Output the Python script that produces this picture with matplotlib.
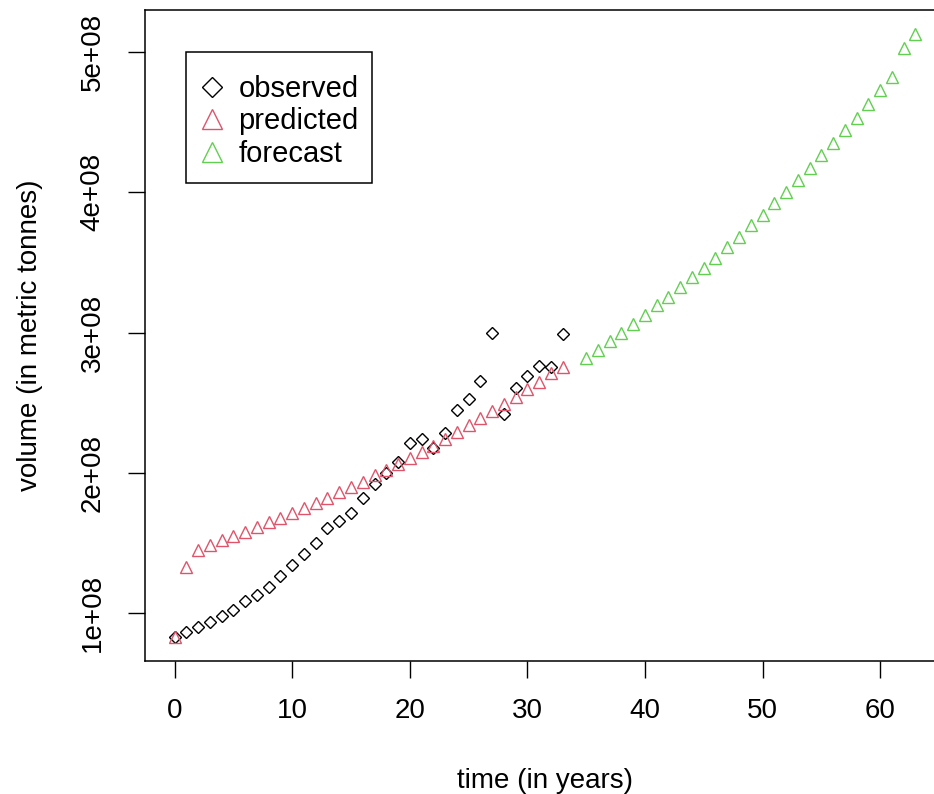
import numpy as np
import matplotlib
matplotlib.use("Agg")
import matplotlib.pyplot as plt
from matplotlib.lines import Line2D
from matplotlib.patches import Rectangle

plt.rcParams["font.family"] = ["Liberation Sans", "DejaVu Sans"]

# observed / predicted: years 0..33, forecast: years 35..63 (values in 1e8 tonnes)
obs_years = list(range(0, 34))
observed = [0.831, 0.867, 0.902, 0.938, 0.979, 1.026, 1.086, 1.133, 1.188, 1.264,
            1.342, 1.425, 1.501, 1.604, 1.656, 1.715, 1.818, 1.920, 1.996, 2.079,
            2.214, 2.241, 2.179, 2.281, 2.447, 2.524, 2.656, 2.999, 2.417, 2.606,
            2.692, 2.763, 2.756, 2.989]
predicted = [0.831, 1.330, 1.449, 1.485, 1.520, 1.549, 1.580, 1.611, 1.651, 1.682,
             1.715, 1.751, 1.787, 1.822, 1.865, 1.901, 1.936, 1.984, 2.020, 2.067,
             2.107, 2.150, 2.191, 2.245, 2.293, 2.340, 2.393, 2.442, 2.488, 2.538,
             2.597, 2.649, 2.709, 2.756]
fc_years = list(range(35, 64))
forecast = [2.816, 2.875, 2.939, 2.999, 3.058, 3.123, 3.194, 3.255, 3.327, 3.394,
            3.462, 3.533, 3.607, 3.683, 3.767, 3.838, 3.926, 4.004, 4.087, 4.171,
            4.266, 4.349, 4.444, 4.531, 4.627, 4.729, 4.824, 5.031, 5.128]

observed = np.array(observed) * 1e8
predicted = np.array(predicted) * 1e8
forecast = np.array(forecast) * 1e8

BLACK = "#000000"
RED = "#DF536B"
GREEN = "#61D04F"

W, H = 934, 794
fig = plt.figure(figsize=(W / 100, H / 100), dpi=100)
ax = fig.add_axes([145 / W, 1 - 661 / H, 800 / W, 651 / H])

ax.plot(obs_years, observed, linestyle="none", marker="D", markersize=6,
        markerfacecolor="none", markeredgecolor=BLACK, markeredgewidth=1.0)
ax.plot(obs_years, predicted, linestyle="none", marker="^", markersize=8,
        markerfacecolor="none", markeredgecolor=RED, markeredgewidth=1.0)
ax.plot(fc_years, forecast, linestyle="none", marker="^", markersize=8,
        markerfacecolor="none", markeredgecolor=GREEN, markeredgewidth=1.0)

# R style axis limits (4% padding)
x_all = obs_years + fc_years
y_all = np.concatenate([observed, predicted, forecast])
xr = max(x_all) - min(x_all)
yr = y_all.max() - y_all.min()
ax.set_xlim(min(x_all) - 0.04 * xr, max(x_all) + 0.04 * xr)
ax.set_ylim(y_all.min() - 0.04 * yr, y_all.max() + 0.04 * yr)

ax.set_xticks([0, 10, 20, 30, 40, 50, 60])
ax.set_yticks([1e8, 2e8, 3e8, 4e8, 5e8])
ax.set_yticklabels(["1e+08", "2e+08", "3e+08", "4e+08", "5e+08"],
                   rotation=90, va="center")
ax.tick_params(axis="both", length=12, width=1.0, labelsize=20, color=BLACK)
ax.tick_params(axis="x", pad=15)
ax.tick_params(axis="y", pad=16.5)

for s in ax.spines.values():
    s.set_linewidth(1.1)

ax.set_xlabel("time (in years)", fontsize=20, labelpad=31)
ax.set_ylabel("volume (in metric tonnes)", fontsize=20, labelpad=26)

handles = [
    Line2D([], [], linestyle="none", marker="D", markersize=10,
           markerfacecolor="none", markeredgecolor=BLACK, markeredgewidth=1.0),
    Line2D([], [], linestyle="none", marker="^", markersize=14,
           markerfacecolor="none", markeredgecolor=RED, markeredgewidth=1.0),
    Line2D([], [], linestyle="none", marker="^", markersize=14,
           markerfacecolor="none", markeredgecolor=GREEN, markeredgewidth=1.0),
]
leg = ax.legend(handles, ["observed", "predicted", "forecast"],
                loc="upper left", bbox_to_anchor=(199 / W, 1 - 75 / H),
                bbox_transform=fig.transFigure, borderaxespad=0,
                fontsize=21, frameon=False, borderpad=0,
                handlelength=0.9, handletextpad=0.45, labelspacing=0.15)

# legend box, R style (more room above the first row)
fig.patches.append(Rectangle((186 / W, 1 - 183 / H), 186 / W, 131 / H,
                             transform=fig.transFigure, fill=False,
                             edgecolor=BLACK, linewidth=1.1, zorder=5))

fig.savefig("out.png", dpi=100)
